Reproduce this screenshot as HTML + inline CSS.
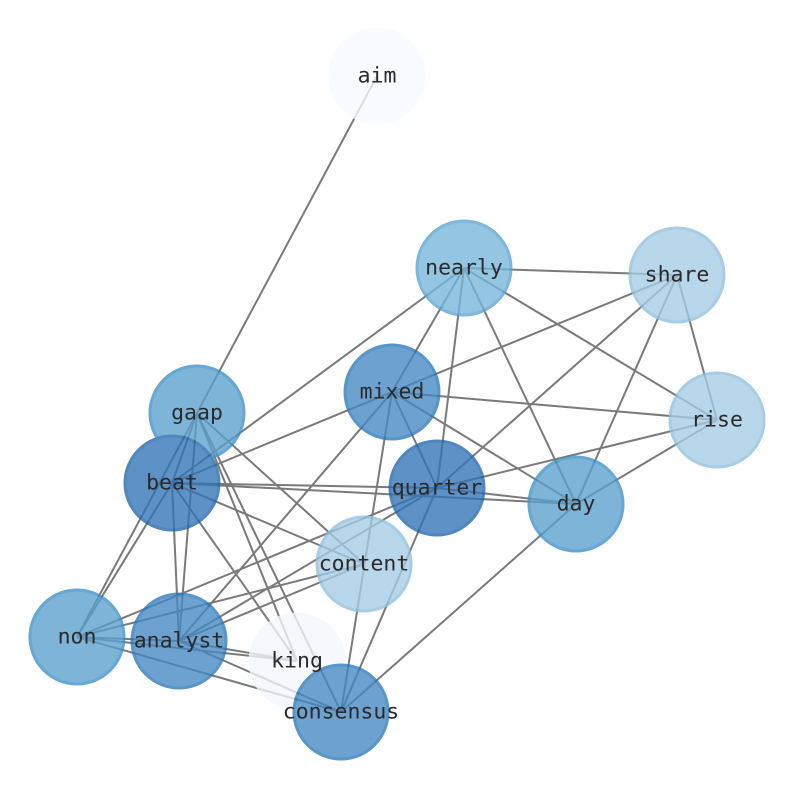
<!DOCTYPE html>
<html><head><meta charset="utf-8"><style>html,body{margin:0;padding:0;background:#fff}</style></head>
<body>
<svg width="794" height="790" viewBox="0 0 794 790" xmlns="http://www.w3.org/2000/svg">
<g stroke="#7a7a7a" stroke-width="2" fill="none">
<line x1="377" y1="76" x2="197" y2="413"/>
<line x1="464" y1="268" x2="677" y2="275"/>
<line x1="464" y1="268" x2="717" y2="420"/>
<line x1="464" y1="268" x2="576" y2="504"/>
<line x1="464" y1="268" x2="437" y2="488"/>
<line x1="464" y1="268" x2="392" y2="392"/>
<line x1="464" y1="268" x2="172" y2="483"/>
<line x1="677" y1="275" x2="392" y2="392"/>
<line x1="677" y1="275" x2="437" y2="488"/>
<line x1="677" y1="275" x2="576" y2="504"/>
<line x1="677" y1="275" x2="717" y2="420"/>
<line x1="392" y1="392" x2="172" y2="483"/>
<line x1="392" y1="392" x2="717" y2="420"/>
<line x1="392" y1="392" x2="576" y2="504"/>
<line x1="392" y1="392" x2="437" y2="488"/>
<line x1="392" y1="392" x2="179" y2="641"/>
<line x1="392" y1="392" x2="341" y2="712"/>
<line x1="717" y1="420" x2="437" y2="488"/>
<line x1="717" y1="420" x2="576" y2="504"/>
<line x1="437" y1="488" x2="172" y2="483"/>
<line x1="437" y1="488" x2="576" y2="504"/>
<line x1="437" y1="488" x2="77" y2="637"/>
<line x1="437" y1="488" x2="179" y2="641"/>
<line x1="437" y1="488" x2="341" y2="712"/>
<line x1="172" y1="483" x2="576" y2="504"/>
<line x1="172" y1="483" x2="77" y2="637"/>
<line x1="172" y1="483" x2="179" y2="641"/>
<line x1="172" y1="483" x2="297" y2="661"/>
<line x1="172" y1="483" x2="364" y2="564"/>
<line x1="197" y1="413" x2="172" y2="483"/>
<line x1="197" y1="413" x2="77" y2="637"/>
<line x1="197" y1="413" x2="179" y2="641"/>
<line x1="197" y1="413" x2="297" y2="661"/>
<line x1="197" y1="413" x2="341" y2="712"/>
<line x1="197" y1="413" x2="364" y2="564"/>
<line x1="364" y1="564" x2="77" y2="637"/>
<line x1="364" y1="564" x2="179" y2="641"/>
<line x1="576" y1="504" x2="341" y2="712"/>
<line x1="77" y1="637" x2="179" y2="641"/>
<line x1="77" y1="637" x2="297" y2="661"/>
<line x1="77" y1="637" x2="341" y2="712"/>
<line x1="179" y1="641" x2="297" y2="661"/>
<line x1="179" y1="641" x2="341" y2="712"/>
</g>
<g stroke-width="3" opacity="0.78">
<circle cx="377" cy="76" r="47" fill="#f7fbff" stroke="#f7fbff"/>
<circle cx="464" cy="268" r="47" fill="#77b5db" stroke="#5aa3d3"/>
<circle cx="677" cy="275" r="47" fill="#a5cde5" stroke="#8fc0e0"/>
<circle cx="392" cy="392" r="47" fill="#4588c3" stroke="#2a78bb"/>
<circle cx="717" cy="420" r="47" fill="#a5cde5" stroke="#8fc0e0"/>
<circle cx="197" cy="413" r="47" fill="#59a0ce" stroke="#3d8fc8"/>
<circle cx="172" cy="483" r="47" fill="#3273b5" stroke="#1f66ae"/>
<circle cx="437" cy="488" r="47" fill="#3273b5" stroke="#1f66ae"/>
<circle cx="576" cy="504" r="47" fill="#59a0ce" stroke="#3d8fc8"/>
<circle cx="364" cy="564" r="47" fill="#a5cde5" stroke="#8fc0e0"/>
<circle cx="77" cy="637" r="47" fill="#59a0ce" stroke="#3d8fc8"/>
<circle cx="179" cy="641" r="47" fill="#4588c3" stroke="#2a78bb"/>
<circle cx="297" cy="661" r="47" fill="#f3f8fe" stroke="#f3f8fe"/>
<circle cx="341" cy="712" r="47" fill="#4588c3" stroke="#2a78bb"/>
</g>
<g font-family="'DejaVu Sans Mono','Liberation Mono',monospace" font-size="21.5" fill="#2a2a2a" text-anchor="middle" dominant-baseline="central">
<text x="377" y="76">aim</text>
<text x="464" y="268">nearly</text>
<text x="677" y="275">share</text>
<text x="392" y="392">mixed</text>
<text x="717" y="420">rise</text>
<text x="197" y="413">gaap</text>
<text x="172" y="483">beat</text>
<text x="437" y="488">quarter</text>
<text x="576" y="504">day</text>
<text x="364" y="564">content</text>
<text x="77" y="637">non</text>
<text x="179" y="641">analyst</text>
<text x="297" y="661">king</text>
<text x="341" y="712">consensus</text>
</g>
</svg>
</body></html>
